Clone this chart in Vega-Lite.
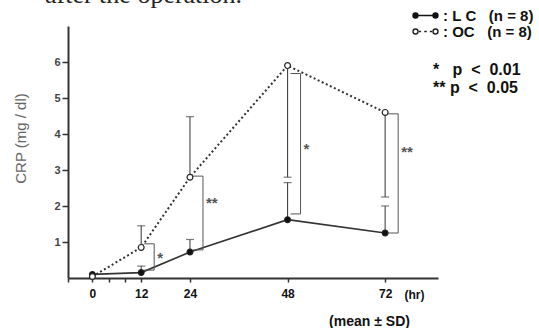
{
  "$schema": "https://vega.github.io/schema/vega-lite/v6.json",
  "autosize": {"type": "none"},
  "width": 370,
  "height": 252,
  "padding": {"left": 68, "top": 26, "right": 101, "bottom": 50},
  "background": "white",
  "title": {
    "text": "after the operation.",
    "font": "Liberation Serif",
    "fontSize": 26,
    "fontWeight": "normal",
    "color": "#222",
    "anchor": "start",
    "frame": "group",
    "offset": 16,
    "dx": -23,
    "dy": 16
  },
  "config": {
    "view": {"stroke": null},
    "font": "Liberation Sans"
  },
  "resolve": {"axis": {"x": "independent"}},
  "datasets": {
    "series": [
      {"time": 0, "group": "LC", "mean": 0.1, "bar_end": null},
      {"time": 12, "group": "LC", "mean": 0.15, "bar_end": 0.33},
      {"time": 24, "group": "LC", "mean": 0.72, "bar_end": 1.07},
      {"time": 48, "group": "LC", "mean": 1.62, "bar_end": 2.65},
      {"time": 72, "group": "LC", "mean": 1.25, "bar_end": 2.0},
      {"time": 0, "group": "OC", "mean": 0.04, "bar_end": null},
      {"time": 12, "group": "OC", "mean": 0.85, "bar_end": 1.45},
      {"time": 24, "group": "OC", "mean": 2.8, "bar_end": 4.48},
      {"time": 48, "group": "OC", "mean": 5.9, "bar_end": 2.8},
      {"time": 72, "group": "OC", "mean": 4.6, "bar_end": 2.25}
    ],
    "brackets": [
      {"time": 12, "top": 0.95, "bottom": 0.22, "sig": "*", "star_y": 0.68},
      {"time": 24, "top": 2.83, "bottom": 0.78, "sig": "**", "star_y": 2.2},
      {"time": 48, "top": 5.68, "bottom": 1.78, "sig": "*", "star_y": 3.7},
      {"time": 72, "top": 4.56, "bottom": 1.25, "sig": "**", "star_y": 3.6}
    ]
  },
  "encoding": {
    "x": {
      "field": "time",
      "type": "quantitative",
      "scale": {"domain": [-6, 85], "nice": false, "zero": false},
      "axis": null
    },
    "y": {
      "type": "quantitative",
      "scale": {"domain": [0, 7], "nice": false},
      "axis": {
        "values": [1, 2, 3, 4, 5, 6],
        "grid": false,
        "domainColor": "#333",
        "domainWidth": 2,
        "tickColor": "#333",
        "tickWidth": 1.5,
        "tickSize": 6,
        "labelFont": "Liberation Sans",
        "labelFontSize": 11,
        "labelFontWeight": "bold",
        "labelColor": "#444",
        "labelPadding": 2,
        "title": "CRP  (mg / dl)",
        "titleFont": "Liberation Sans",
        "titleFontSize": 15,
        "titleFontWeight": "normal",
        "titleColor": "#666",
        "titlePadding": 25,
        "titleY": 112
      }
    }
  },
  "layer": [
    {
      "data": {"name": "series"},
      "transform": [{"filter": "datum.group == 'LC'"}],
      "mark": {"type": "line", "stroke": "#333", "strokeWidth": 1.6},
      "encoding": {
        "x": {
          "field": "time",
          "type": "quantitative",
          "scale": {"domain": [-6, 85], "nice": false, "zero": false},
          "axis": {
            "orient": "bottom",
            "values": [-6, 0, 4, 8, 12, 24, 48, 72],
            "labelExpr": "(datum.value == 0 || datum.value == 12 || datum.value == 24 || datum.value == 48 || datum.value == 72) ? datum.label : ''",
            "grid": false,
            "domainColor": "#333",
            "domainWidth": 2,
            "tickColor": "#333",
            "tickWidth": 1.5,
            "tickSize": 4,
            "labelFont": "Liberation Sans",
            "labelFontSize": 12,
            "labelFontWeight": "bold",
            "labelColor": "#111",
            "labelPadding": 6,
            "title": "(hr)",
            "titleFont": "Liberation Sans",
            "titleFontSize": 12,
            "titleFontWeight": "bold",
            "titleColor": "#111",
            "titleX": 346,
            "titleY": 16,
            "titleAlign": "center",
            "titleBaseline": "middle"
          }
        },
        "y": {"field": "mean", "type": "quantitative"}
      }
    },
    {
      "data": {"name": "series"},
      "transform": [{"filter": "datum.group == 'OC'"}],
      "mark": {"type": "line", "stroke": "#333", "strokeWidth": 2, "strokeDash": [2, 2.5]},
      "encoding": {"y": {"field": "mean", "type": "quantitative"}}
    },
    {
      "data": {"name": "series"},
      "transform": [{"filter": "isValid(datum.bar_end)"}],
      "mark": {"type": "rule", "stroke": "#444", "strokeWidth": 1.1},
      "encoding": {
        "y": {"field": "mean", "type": "quantitative"},
        "y2": {"field": "bar_end"}
      }
    },
    {
      "data": {"name": "series"},
      "transform": [{"filter": "isValid(datum.bar_end)"}],
      "mark": {"type": "tick", "orient": "horizontal", "color": "#444", "size": 8, "thickness": 1.2},
      "encoding": {"y": {"field": "bar_end", "type": "quantitative"}}
    },
    {
      "data": {"name": "brackets"},
      "mark": {"type": "rule", "stroke": "#555", "strokeWidth": 1, "xOffset": 13},
      "encoding": {
        "x": {
          "field": "time",
          "type": "quantitative",
          "scale": {"domain": [-6, 85], "nice": false, "zero": false},
          "axis": {
            "orient": "bottom",
            "labels": false,
            "ticks": false,
            "domain": false,
            "grid": false,
            "title": "(mean ± SD)",
            "titleFont": "Liberation Sans",
            "titleFontSize": 14,
            "titleFontWeight": "bold",
            "titleColor": "#111",
            "titleX": 301,
            "titleY": 43,
            "titleAlign": "center",
            "titleBaseline": "middle"
          }
        },
        "y": {"field": "top", "type": "quantitative"},
        "y2": {"field": "bottom"}
      }
    },
    {
      "data": {"name": "brackets"},
      "mark": {"type": "rule", "stroke": "#555", "strokeWidth": 1, "xOffset": 3, "x2Offset": 13},
      "encoding": {
        "x2": {"field": "time"},
        "y": {"field": "top", "type": "quantitative"}
      }
    },
    {
      "data": {"name": "brackets"},
      "mark": {"type": "rule", "stroke": "#555", "strokeWidth": 1, "xOffset": 3, "x2Offset": 13},
      "encoding": {
        "x2": {"field": "time"},
        "y": {"field": "bottom", "type": "quantitative"}
      }
    },
    {
      "data": {"name": "brackets"},
      "mark": {"type": "text", "align": "left", "baseline": "middle", "dx": 16, "dy": 4, "fontSize": 15, "fontWeight": "bold", "font": "Liberation Sans"},
      "encoding": {
        "y": {"field": "star_y", "type": "quantitative"},
        "text": {"field": "sig"},
        "color": {
          "field": "sig",
          "type": "nominal",
          "scale": {"domain": ["*", "**"], "range": ["#555", "#555"]},
          "legend": {
            "title": null,
            "orient": "none",
            "legendX": 349,
            "legendY": 36,
            "padding": 0,
            "symbolOpacity": 0,
            "symbolSize": 1,
            "labelOffset": 0,
            "rowPadding": 2,
            "labelFont": "Liberation Sans",
            "labelFontSize": 16,
            "labelFontWeight": "bold",
            "labelColor": "#111",
            "labelExpr": "datum.label == '*' ? '\u00a0*\u00a0\u00a0\u00a0p\u00a0\u00a0<\u00a0\u00a00.01' : '**\u00a0p\u00a0\u00a0<\u00a0\u00a00.05'"
          }
        }
      }
    },
    {
      "data": {"name": "series"},
      "mark": {"type": "point", "filled": false, "size": 0, "strokeWidth": 1.4, "opacity": 1},
      "encoding": {
        "y": {"field": "mean", "type": "quantitative"},
        "fill": {
          "field": "group",
          "type": "nominal",
          "scale": {"domain": ["LC", "OC"], "range": ["#111111", "#ffffff"]},
          "legend": {
            "title": null,
            "orient": "none",
            "legendX": 350,
            "legendY": -18,
            "padding": 0,
            "symbolSize": 156,
            "symbolStrokeWidth": 1.4,
            "symbolOpacity": 1,
            "labelOffset": 10,
            "rowPadding": -1,
            "labelFont": "Liberation Sans",
            "labelFontSize": 15,
            "labelFontWeight": "bold",
            "labelColor": "#111",
            "labelExpr": "datum.label == 'LC' ? ':\u00a0L\u00a0C\u00a0\u00a0\u00a0(n\u00a0=\u00a08)' : ':\u00a0OC\u00a0\u00a0\u00a0(n\u00a0=\u00a08)'"
          }
        },
        "stroke": {
          "field": "group",
          "type": "nominal",
          "scale": {"domain": ["LC", "OC"], "range": ["#111111", "#222222"]},
          "legend": {
            "title": null,
            "orient": "none",
            "legendX": 350,
            "legendY": -18,
            "padding": 0,
            "symbolSize": 156,
            "symbolStrokeWidth": 1.4,
            "symbolOpacity": 1,
            "labelOffset": 10,
            "rowPadding": -1,
            "labelFont": "Liberation Sans",
            "labelFontSize": 15,
            "labelFontWeight": "bold",
            "labelColor": "#111",
            "labelExpr": "datum.label == 'LC' ? ':\u00a0L\u00a0C\u00a0\u00a0\u00a0(n\u00a0=\u00a08)' : ':\u00a0OC\u00a0\u00a0\u00a0(n\u00a0=\u00a08)'"
          }
        },
        "shape": {
          "field": "group",
          "type": "nominal",
          "scale": {
            "domain": ["LC", "OC"],
            "range": [
              "M-1.6,0L1.6,0M-1.2,0A0.4,0.4,0,1,1,-2,0A0.4,0.4,0,1,1,-1.2,0ZM2,0A0.4,0.4,0,1,1,1.2,0A0.4,0.4,0,1,1,2,0Z",
              "M-1.05,0L-0.7,0M-0.2,0L0.2,0M0.7,0L1.05,0M-1.2,0A0.4,0.4,0,1,1,-2,0A0.4,0.4,0,1,1,-1.2,0ZM2,0A0.4,0.4,0,1,1,1.2,0A0.4,0.4,0,1,1,2,0Z"
            ]
          },
          "legend": {
            "title": null,
            "orient": "none",
            "legendX": 350,
            "legendY": -18,
            "padding": 0,
            "symbolSize": 156,
            "symbolStrokeWidth": 1.4,
            "symbolOpacity": 1,
            "labelOffset": 10,
            "rowPadding": -1,
            "labelFont": "Liberation Sans",
            "labelFontSize": 15,
            "labelFontWeight": "bold",
            "labelColor": "#111",
            "labelExpr": "datum.label == 'LC' ? ':\u00a0L\u00a0C\u00a0\u00a0\u00a0(n\u00a0=\u00a08)' : ':\u00a0OC\u00a0\u00a0\u00a0(n\u00a0=\u00a08)'"
          }
        }
      }
    },
    {
      "data": {"name": "series"},
      "mark": {"type": "point", "filled": true, "shape": "circle", "size": 34, "stroke": "#222", "strokeWidth": 1.2, "opacity": 1},
      "encoding": {
        "y": {"field": "mean", "type": "quantitative"},
        "fill": {"field": "group", "type": "nominal"}
      }
    }
  ]
}
